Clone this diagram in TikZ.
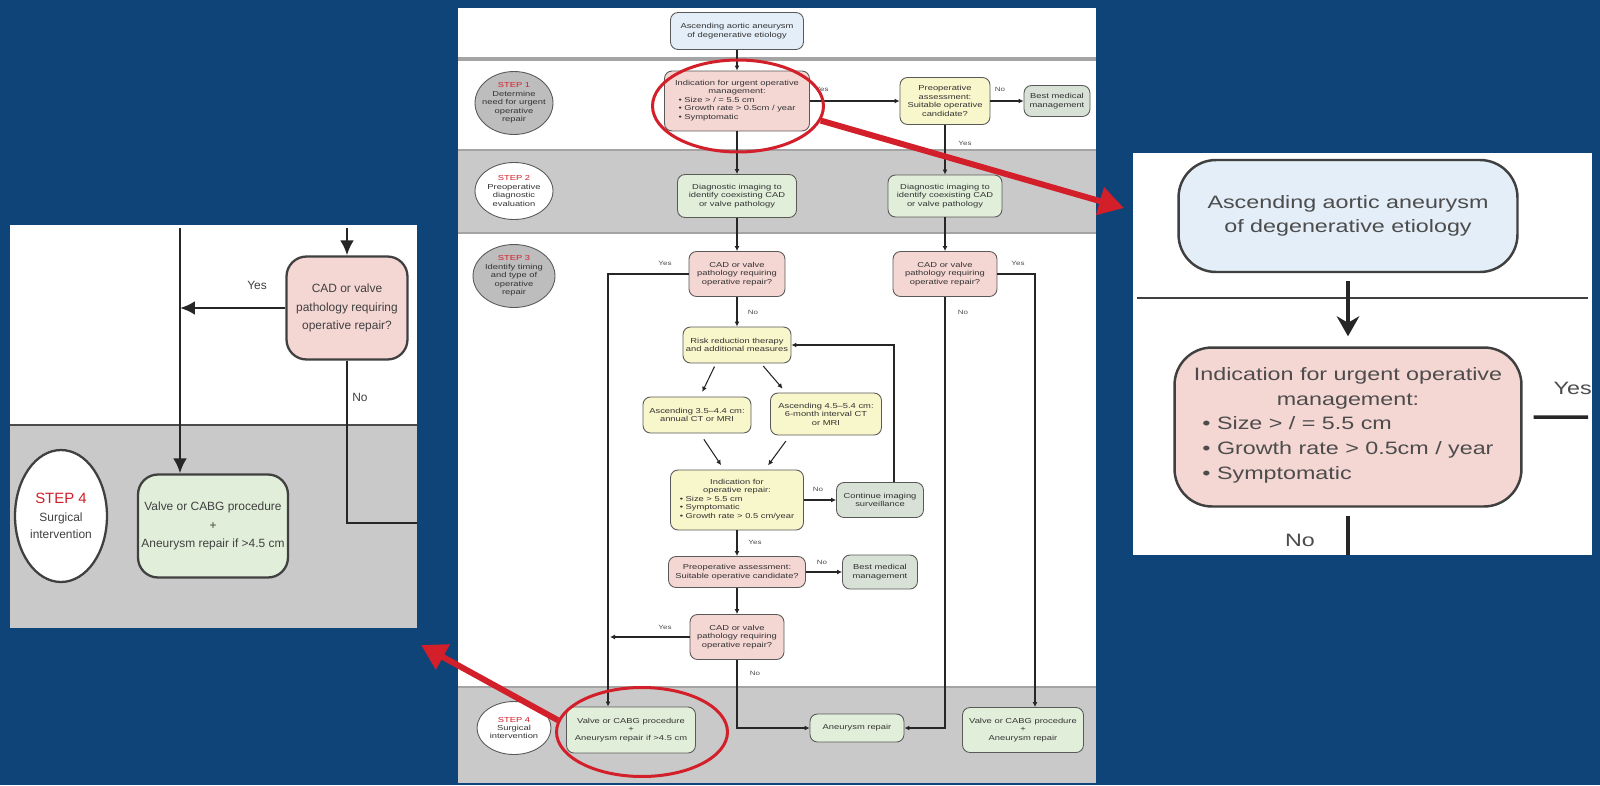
\documentclass[tikz,border=0pt]{standalone}
\usepackage{fontspec}
\setmainfont{Liberation Sans}
\newfontfamily\widesans[FakeStretch=1.3]{Liberation Sans}
\usetikzlibrary{arrows.meta,shapes.geometric}

\definecolor{slideblue}{HTML}{0E4478}
\definecolor{bandgray}{HTML}{C9C9C9}
\definecolor{rulegray}{HTML}{A4A4A4}
\definecolor{stepgray}{HTML}{BDBDBD}
\definecolor{pinkfill}{HTML}{F4D6D3}
\definecolor{bluefill}{HTML}{E3EEF8}
\definecolor{yellowfill}{HTML}{F8F6CB}
\definecolor{greenfill}{HTML}{E1EFDA}
\definecolor{sagefill}{HTML}{D7E1D5}
\definecolor{markred}{HTML}{D21F2A}

\tikzset{
  tinytext/.style={font=\widesans\fontsize{4.1}{4.8}\selectfont, text=black!80},
  cbox/.style={draw=black!65, line width=0.5pt, rounded corners=0.15cm, align=center, inner sep=0pt, tinytext},
  cstep/.style={ellipse, draw=black!65, line width=0.5pt, align=center, inner sep=-0.15cm, tinytext},
  cline/.style={black!85, line width=0.6pt, -{Latex[length=1mm,width=1mm]}},
  clabel/.style={font=\widesans\fontsize{3.5}{4}\selectfont, text=black!70, inner sep=0pt},
  zbox/.style={draw=black!75, line width=1.3pt, rounded corners=0.4cm, align=center, inner sep=0pt, font=\fontsize{6.8}{10.5}\selectfont, text=black!75},
  zline/.style={black!85, line width=1.6pt},
  zarrow/.style={zline, -{Latex[length=0.3cm,width=0.28cm]}},
  zlabel/.style={font=\fontsize{6.8}{8}\selectfont, text=black!75, inner sep=0pt},
  rbox/.style={draw=black!75, line width=1.4pt, rounded corners=0.75cm, align=center, inner sep=0pt, font=\widesans\fontsize{10.2}{14}\selectfont, text=black!70},
  rline/.style={black!85, line width=2pt},
  rlabel/.style={font=\widesans\fontsize{10.2}{12}\selectfont, text=black!70, inner sep=0pt},
  hilite/.style={ellipse, draw=markred, line width=0.06cm, inner sep=0pt},
  redarrow/.style={markred, line width=0.12cm, -{Triangle[length=0.5cm,width=0.55cm]}}
}

\begin{document}
\begin{tikzpicture}[x=0.02cm, y=-0.02cm]
  % slide background
  \useasboundingbox (0,0) rectangle (1600,785);
  \fill[slideblue] (0,0) rectangle (1600,785);

  % centre page and its step bands
  \fill[white] (458,8) rectangle (1096,783);
  \fill[bandgray] (458,150) rectangle (1096,233);
  \fill[bandgray] (458,687) rectangle (1096,783);
  \draw[rulegray, line width=2.5pt] (458,59) -- (1096,59);
  \draw[rulegray, line width=1.5pt] (458,150) -- (1096,150);
  \draw[rulegray, line width=1.5pt] (458,233) -- (1096,233);
  \draw[rulegray, line width=1.5pt] (458,687) -- (1096,687);

  % step circles
  \node[cstep, fill=stepgray, minimum width=1.56cm, minimum height=1.26cm] (cStep1) at (514,103) {\textcolor{markred}{STEP 1}\\Determine\\need for urgent\\operative\\repair};
  \node[cstep, fill=white, minimum width=1.56cm, minimum height=1.14cm] (cStep2) at (514,191) {\textcolor{markred}{STEP 2}\\Preoperative\\diagnostic\\evaluation};
  \node[cstep, fill=stepgray, minimum width=1.64cm, minimum height=1.26cm] (cStep3) at (514,276) {\textcolor{markred}{STEP 3}\\Identify timing\\and type of\\operative\\repair};
  \node[cstep, fill=white, minimum width=1.48cm, minimum height=1.06cm] (cStep4) at (514,728) {\textcolor{markred}{STEP 4}\\Surgical\\intervention};

  % flow boxes
  \node[cbox, fill=bluefill, minimum width=2.66cm, minimum height=0.74cm] (cTop) at (737,31) {Ascending aortic aneurysm\\of degenerative etiology};
  \node[cbox, fill=pinkfill, minimum width=2.9cm, minimum height=1.2cm] (cInd1) at (737,101) {Indication for urgent operative\\management:\\\begin{tabular}[t]{@{}l@{}}• Size > / = 5.5 cm\\• Growth rate > 0.5cm / year\\• Symptomatic\end{tabular}};
  \node[cbox, fill=yellowfill, minimum width=1.8cm, minimum height=0.94cm] (cPre1) at (945,101) {Preoperative\\assessment:\\Suitable operative\\candidate?};
  \node[cbox, fill=sagefill, minimum width=1.32cm, minimum height=0.62cm] (cBest1) at (1057,101) {Best medical\\management};
  \node[cbox, fill=greenfill, minimum width=2.38cm, minimum height=0.86cm] (cDiagL) at (737,196) {Diagnostic imaging to\\identify coexisting CAD\\or valve pathology};
  \node[cbox, fill=greenfill, minimum width=2.28cm, minimum height=0.84cm] (cDiagR) at (945,196) {Diagnostic imaging to\\identify coexisting CAD\\or valve pathology};
  \node[cbox, fill=pinkfill, minimum width=1.92cm, minimum height=0.9cm] (cCadL) at (737,274) {CAD or valve\\pathology requiring\\operative repair?};
  \node[cbox, fill=pinkfill, minimum width=2.08cm, minimum height=0.9cm] (cCadR) at (945,274) {CAD or valve\\pathology requiring\\operative repair?};
  \node[cbox, fill=yellowfill, minimum width=2.16cm, minimum height=0.72cm] (cRisk) at (737,345) {Risk reduction therapy\\and additional measures};
  \node[cbox, fill=yellowfill, minimum width=2.16cm, minimum height=0.72cm] (cSurvL) at (697,415) {Ascending 3.5–4.4 cm:\\annual CT or MRI};
  \node[cbox, fill=yellowfill, minimum width=2.22cm, minimum height=0.84cm] (cSurvR) at (826,414) {Ascending 4.5–5.4 cm:\\6-month interval CT\\or MRI};
  \node[cbox, fill=yellowfill, minimum width=2.66cm, minimum height=1.2cm] (cOpInd) at (737,500) {Indication for\\operative repair:\\\begin{tabular}[t]{@{}l@{}}• Size > 5.5 cm\\• Symptomatic\\• Growth rate > 0.5 cm/year\end{tabular}};
  \node[cbox, fill=sagefill, minimum width=1.74cm, minimum height=0.7cm] (cCont) at (880,500) {Continue imaging\\surveillance};
  \node[cbox, fill=pinkfill, minimum width=2.74cm, minimum height=0.62cm] (cPre2) at (737,572) {Preoperative assessment:\\Suitable operative candidate?};
  \node[cbox, fill=sagefill, minimum width=1.5cm, minimum height=0.68cm] (cBest2) at (880,572) {Best medical\\management};
  \node[cbox, fill=pinkfill, minimum width=1.88cm, minimum height=0.9cm] (cCad3) at (737,637) {CAD or valve\\pathology requiring\\operative repair?};
  \node[cbox, fill=greenfill, minimum width=2.58cm, minimum height=0.92cm] (cValveL) at (631,730) {Valve or CABG procedure\\+\\Aneurysm repair if >4.5 cm};
  \node[cbox, fill=greenfill, minimum width=1.88cm, minimum height=0.56cm] (cRepair) at (857,728) {Aneurysm repair};
  \node[cbox, fill=greenfill, minimum width=2.42cm, minimum height=0.9cm] (cValveR) at (1023,730) {Valve or CABG procedure\\+\\Aneurysm repair};

  % yes / no tags
  \node[clabel] (cYes1) at (822,89) {Yes};
  \node[clabel] (cNo1) at (1000,89) {No};
  \node[clabel] (cYes2) at (965,143) {Yes};
  \node[clabel] (cYes3) at (665,263) {Yes};
  \node[clabel] (cYes4) at (1018,263) {Yes};
  \node[clabel] (cNo2) at (753,312) {No};
  \node[clabel] (cNo3) at (963,312) {No};
  \node[clabel] (cNo4) at (818,489) {No};
  \node[clabel] (cYes5) at (755,542) {Yes};
  \node[clabel] (cNo5) at (822,562) {No};
  \node[clabel] (cYes6) at (665,627) {Yes};
  \node[clabel] (cNo6) at (755,673) {No};

  % connectors
  \draw[cline] (cTop) -- (cInd1);
  \draw[cline] (cInd1) -- (cPre1);
  \draw[cline] (cPre1) -- (cBest1);
  \draw[cline] (cInd1) -- (cDiagL);
  \draw[cline] (cPre1) -- (cDiagR);
  \draw[cline] (cDiagL) -- (cCadL);
  \draw[cline] (cDiagR) -- (cCadR);
  \draw[cline] (cCadL.west) -| ([xshift=-0.46cm]cValveL.north);
  \draw[cline] (cCadL) -- (cRisk);
  \draw[cline, shorten <=2pt, shorten >=3pt] ([xshift=-0.42cm]cRisk.south) -- ([xshift=0.06cm]cSurvL.north);
  \draw[cline, shorten <=2pt, shorten >=3pt] ([xshift=0.48cm]cRisk.south) -- ([xshift=-0.8cm]cSurvR.north);
  \draw[cline, shorten <=4pt, shorten >=3pt] ([xshift=0.06cm]cSurvL.south) -- ([xshift=-0.26cm]cOpInd.north);
  \draw[cline, shorten <=4pt, shorten >=3pt] ([xshift=-0.72cm]cSurvR.south) -- ([xshift=0.56cm]cOpInd.north);
  \draw[cline] (cOpInd) -- (cCont);
  \draw[cline] ([xshift=0.28cm]cCont.north) |- (cRisk.east);
  \draw[cline] (cOpInd) -- (cPre2);
  \draw[cline] (cPre2) -- (cBest2);
  \draw[cline] (cPre2) -- (cCad3);
  \coordinate (cJoin) at (610,637);
  \draw[cline] (cCad3.west) -- (cJoin);
  \draw[cline] (cCad3.south) |- (cRepair.west);
  \draw[cline] (cCadR.east) -| ([xshift=0.24cm]cValveR.north);
  \draw[cline] (cCadR.south) |- (cRepair.east);

  % left close-up
  \fill[white] (10,225) rectangle (417,628);
  \fill[bandgray] (10,425) rectangle (417,628);
  \draw[black!70, line width=1.6pt] (10,425) -- (417,425);
  \node[zbox, fill=pinkfill, minimum width=2.42cm, minimum height=2.06cm] (zCad) at (347,308) {CAD or valve\\pathology requiring\\operative repair?};
  \node[ellipse, draw=black!75, line width=1.3pt, fill=white, minimum width=1.84cm, minimum height=2.64cm, inner sep=-0.2cm, align=center, font=\fontsize{6.8}{10}\selectfont, text=black!75] (zStep) at (61,516) {\textcolor{markred}{\fontsize{8.5}{11}\selectfont STEP 4}\\Surgical\\intervention};
  \node[zbox, fill=greenfill, minimum width=3cm, minimum height=2.06cm] (zValve) at (213,526) {Valve or CABG procedure\\+\\Aneurysm repair if >4.5 cm};
  \coordinate (zTopL) at (180,228);
  \coordinate (zTopR) at (347,228);
  \coordinate (zNoEnd) at (417,523);
  \draw[zarrow] (zTopL) -- (zTopL |- zValve.north);
  \draw[zarrow] (zTopR) -- (zCad.north);
  \draw[zarrow] (zCad.west) -- (zCad.west -| zTopL);
  \draw[zline] (zCad.south) |- (zNoEnd);
  \node[zlabel] (zYes) at (257,285) {Yes};
  \node[zlabel] (zNo) at (360,397) {No};

  % right close-up
  \fill[white] (1133,153) rectangle (1592,555);
  \node[rbox, fill=bluefill, minimum width=6.78cm, minimum height=2.24cm] (rTop) at (1348,216) {Ascending aortic aneurysm\\of degenerative etiology};
  \coordinate (rRuleL) at (1137,298);
  \coordinate (rRuleR) at (1588,298);
  \draw[black!75, line width=1.6pt] (rRuleL) -- (rRuleR);
  \node[rbox, fill=pinkfill, minimum width=6.94cm, minimum height=3.18cm] (rInd) at (1348,427) {Indication for urgent operative\\management:\\\begin{tabular}[t]{@{}l@{}}• Size > / = 5.5 cm\\• Growth rate > 0.5cm / year\\• Symptomatic\end{tabular}};
  \draw[rline, -{Stealth[length=0.4cm,width=0.45cm]}, shorten <=0.16cm, shorten >=0.2cm] (rTop) -- (rInd);
  \coordinate (rYesEnd) at (1588,417);
  \draw[rline] ([xshift=0.22cm, yshift=0.2cm]rInd.east) -- (rYesEnd);
  \coordinate (rNoEnd) at (1348,555);
  \draw[rline, shorten <=0.16cm] (rInd.south) -- (rNoEnd);
  \node[rlabel, anchor=east] (rYes) at (1592,388) {Yes};
  \node[rlabel] (rNo) at (1300,540) {No};

  % red call-outs
  \node[hilite, minimum width=3.42cm, minimum height=1.84cm] (hlTop) at (738,106) {};
  \node[hilite, minimum width=3.42cm, minimum height=1.78cm] (hlBottom) at (642,732) {};
  \coordinate (rTip) at (1124,208);
  \coordinate (lTip) at (421,645);
  \draw[redarrow] (hlTop.-10) -- (rTip);
  \draw[redarrow] (hlBottom.172) -- (lTip);
\end{tikzpicture}
\end{document}
